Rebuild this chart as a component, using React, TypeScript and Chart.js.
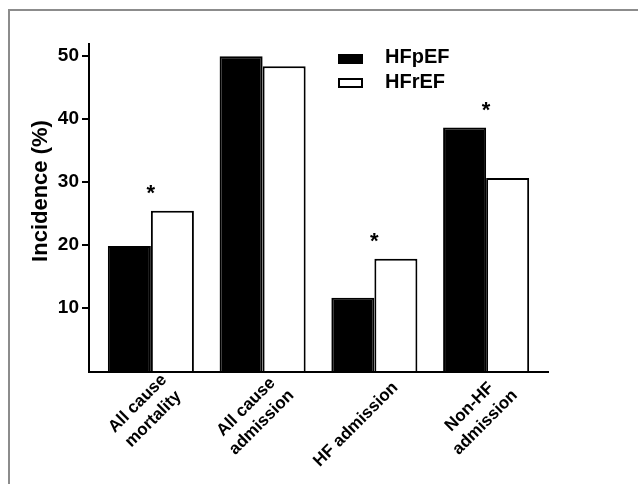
import React, { useEffect, useRef } from "react";
import { Chart, registerables } from "chart.js";

Chart.register(...registerables);

const categories: string[][] = [
  ["All cause", "mortality"],
  ["All cause", "admission"],
  ["HF admission"],
  ["Non-HF", "admission"],
];
const seriesNames = ["HFpEF", "HFrEF"];
const hfpef = [19.8, 49.9, 11.6, 38.6];
const hfref = [25.4, 48.3, 17.8, 30.6];
const significant = [true, false, true, true];
const yTickValues = [10, 20, 30, 40, 50];
const yTitle = "Incidence (%)";

const FONT = "'Liberation Sans', Arial, Helvetica, sans-serif";

const decorPlugin = {
  id: "decor",
  afterDraw(chart: any) {
    const { ctx, chartArea: ca, scales } = chart;
    const xs = scales.x;
    const ys = scales.y;
    ctx.save();
    ctx.strokeStyle = "#000";
    ctx.fillStyle = "#000";
    ctx.lineWidth = 2;
    const axisX = ca.left - 6;
    const axisY = ca.bottom + 1;
    // y axis line
    ctx.beginPath();
    ctx.moveTo(axisX, ca.top);
    ctx.lineTo(axisX, axisY + 1);
    ctx.stroke();
    // y tick marks
    for (const v of yTickValues) {
      const py = Math.round(ys.getPixelForValue(v));
      ctx.beginPath();
      ctx.moveTo(axisX - 7, py);
      ctx.lineTo(axisX, py);
      ctx.stroke();
    }
    // x axis line
    ctx.beginPath();
    ctx.moveTo(axisX - 1, axisY);
    ctx.lineTo(ca.right + 7, axisY);
    ctx.stroke();

    // x category labels: rotated, centre-aligned lines
    ctx.font = `bold 17px ${FONT}`;
    ctx.textAlign = "center";
    ctx.textBaseline = "middle";
    const LH = 22;
    categories.forEach((lines, i) => {
      const px = xs.getPixelForValue(i);
      const w = Math.max(...lines.map((l) => ctx.measureText(l).width));
      ctx.save();
      ctx.translate(px + 21, axisY + 13);
      ctx.rotate(-Math.PI / 4);
      lines.forEach((l, k) => {
        const v = (k - (lines.length - 1) / 2) * LH;
        ctx.fillText(l, -w / 2, v);
      });
      ctx.restore();
    });

    // asterisks
    ctx.font = `bold 22px ${FONT}`;
    ctx.textAlign = "center";
    ctx.textBaseline = "alphabetic";
    significant.forEach((s, i) => {
      if (!s) return;
      const px = xs.getPixelForValue(i);
      const top = ys.getPixelForValue(Math.max(hfpef[i], hfref[i]));
      ctx.fillText("*", px, top - 11);
    });

    // y title
    ctx.save();
    ctx.translate(41, 191);
    ctx.rotate(-Math.PI / 2);
    ctx.font = `bold 22px ${FONT}`;
    ctx.textAlign = "center";
    ctx.textBaseline = "middle";
    ctx.fillText(yTitle, 0, 0);
    ctx.restore();

    // legend
    const ds = chart.data.datasets;
    ctx.font = `bold 20px ${FONT}`;
    ctx.textAlign = "left";
    ctx.textBaseline = "alphabetic";
    ds.forEach((d: any, i: number) => {
      const by = 54 + i * 24;
      ctx.fillStyle = d.backgroundColor;
      ctx.fillRect(338, by, 25, 10);
      ctx.strokeStyle = d.borderColor;
      ctx.lineWidth = 2;
      ctx.strokeRect(339, by + 1, 23, 8);
      ctx.fillStyle = "#000";
      ctx.fillText(d.label, 385, 63 + i * 25);
    });
    ctx.restore();
  },
};

export default function App() {
  const ref = useRef<HTMLCanvasElement | null>(null);
  useEffect(() => {
    if (!ref.current) return;
    const chart = new Chart(ref.current, {
      type: "bar",
      data: {
        labels: categories,
        datasets: [
          {
            label: seriesNames[0],
            data: hfpef,
            backgroundColor: "#000",
            borderColor: "#000",
            borderWidth: 2,
            categoryPercentage: 0.77,
            barPercentage: 1.0,
          },
          {
            label: seriesNames[1],
            data: hfref,
            backgroundColor: "#fff",
            borderColor: "#000",
            borderWidth: 2,
            categoryPercentage: 0.77,
            barPercentage: 1.0,
          },
        ],
      },
      options: {
        animation: false,
        responsive: false,
        events: [],
        layout: { padding: { top: 43, right: 96, left: 0, bottom: 0 } },
        plugins: { legend: { display: false }, tooltip: { enabled: false } },
        scales: {
          x: {
            grid: { display: false, drawTicks: false },
            border: { display: false },
            ticks: { display: false },
            afterFit(scale: any) {
              scale.height = 113;
            },
          },
          y: {
            min: 0,
            max: 52,
            grid: { display: false, drawTicks: false },
            border: { display: false },
            afterBuildTicks(scale: any) {
              scale.ticks = yTickValues.map((v) => ({ value: v }));
            },
            ticks: {
              padding: 16,
              color: "#000",
              font: { family: FONT, size: 19, weight: "bold" },
            },
            afterFit(scale: any) {
              scale.width = 95;
            },
          },
        },
      },
      plugins: [decorPlugin],
    } as any);
    return () => chart.destroy();
  }, []);

  return (
    <div style={{ position: "fixed", left: 0, top: 0, width: 638, height: 484, background: "#fff" }}>
      <div
        style={{
          position: "absolute",
          left: 8,
          top: 9,
          width: 630,
          height: 475,
          borderTop: "2px solid #8c8c8c",
          borderLeft: "2px solid #8c8c8c",
          boxSizing: "border-box",
        }}
      />
      <canvas
        ref={ref}
        width={638}
        height={484}
        style={{ position: "absolute", left: 0, top: 0, width: 638, height: 484 }}
      />
    </div>
  );
}
